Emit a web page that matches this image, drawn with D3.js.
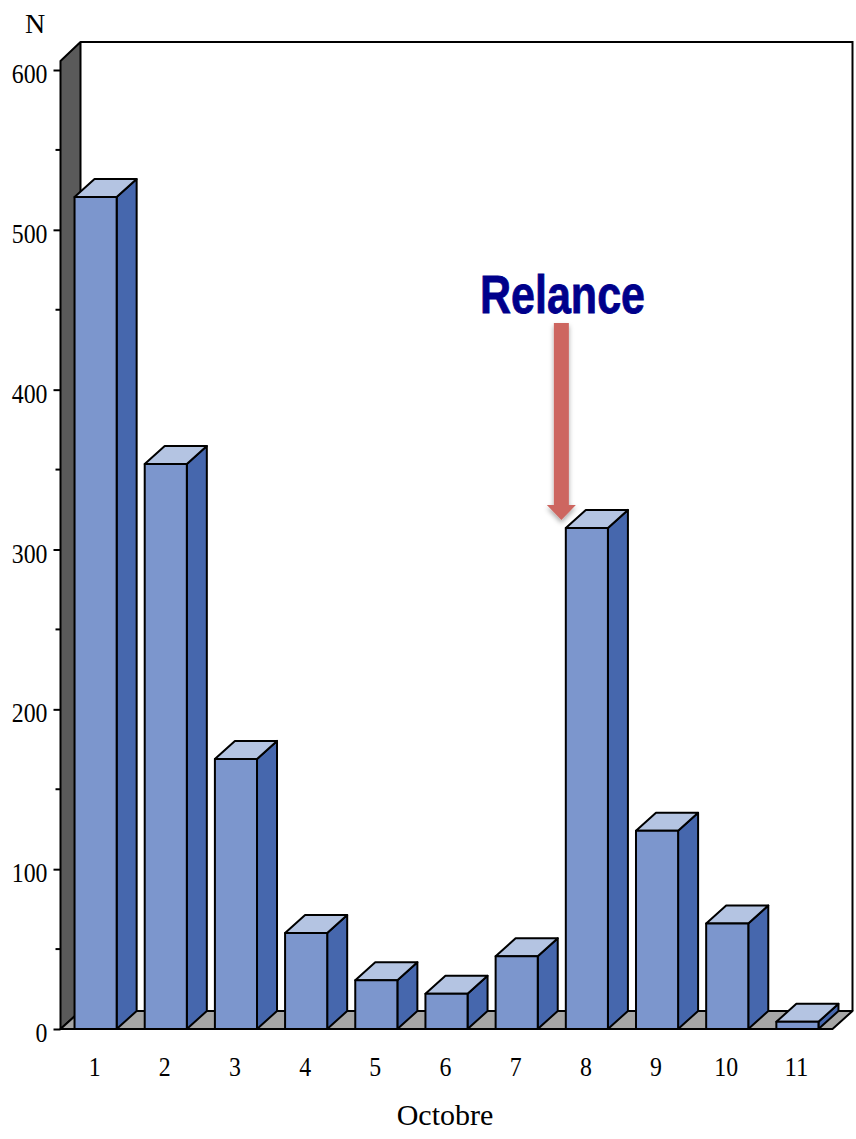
<!DOCTYPE html>
<html><head><meta charset="utf-8">
<script src="https://cdn.jsdelivr.net/npm/d3@7"></script>
<style>html,body{margin:0;padding:0;background:#fff}svg{display:block}
text{font-family:"Liberation Serif",serif;fill:#000}</style></head>
<body><div id="c"></div>
<script>
const categories=["1","2","3","4","5","6","7","8","9","10","11"];
const values=[520.5,353.5,169,60,30.5,22,45.5,313.5,124,66,4.5];
const majorTicks=[0,100,200,300,400,500,600];
const minorTicks=[50,150,250,350,450,550];
const yTitle="N", xTitle="Octobre", note="Relance";

(function(){
const W=856,H=1139,dx=20,dy=-18;
const svg=d3.select("#c").append("svg").attr("width",W).attr("height",H);
const y=d3.scaleLinear().domain([0,600]).range([1029,70]);
const x=d3.scaleBand().domain(categories).range([60.5,832.5]).paddingInner(0.4).paddingOuter(0.2);
const y0=y(0), xL=x.range()[0], xR=x.range()[1], wallTop=42;
const line=d3.line();
const poly=(pts,fill)=>svg.append("path").attr("d",line(pts)+"Z").attr("fill",fill)
  .attr("stroke","#000").attr("stroke-width",2).attr("stroke-linejoin","round");

const defs=svg.append("defs");
const f=defs.append("filter").attr("id","sh").attr("x","-50%").attr("y","-10%").attr("width","220%").attr("height","120%");
f.append("feDropShadow").attr("dx",0).attr("dy",3).attr("stdDeviation",2.5).attr("flood-color","#000").attr("flood-opacity",0.35);

// back plane, side wall, floor
svg.append("path").attr("d",line([[xL+dx,wallTop],[xR+dx,wallTop],[xR+dx,y0+dy]])).attr("fill","#fff")
  .attr("stroke","#000").attr("stroke-width",2);
poly([[xL,y(600)-9],[xL+dx,wallTop],[xL+dx,y0+dy],[xL,y0]],"#5a5a5a");
poly([[xL,y0],[xL+dx,y0+dy],[xR+dx,y0+dy],[xR,y0]],"#a6a6a6");

// axis
const yAxis=d3.axisLeft(y).tickValues(majorTicks).tickSize(7).tickPadding(6).tickFormat(d3.format("d"));
const gy=svg.append("g").attr("transform",`translate(${xL},0)`).call(yAxis);
gy.select(".domain").remove();
gy.selectAll("line").attr("stroke","#000").attr("stroke-width",2);
gy.selectAll("text").attr("font-size",27.5).attr("font-family","Liberation Serif").attr("fill","#000")
  .attr("dy","0.46em")
  .attr("textLength",d=>String(d).length*11.9).attr("lengthAdjust","spacingAndGlyphs");
svg.append("g").selectAll("line").data(minorTicks).join("line")
  .attr("x1",xL-5).attr("x2",xL).attr("y1",d=>y(d)).attr("y2",d=>y(d))
  .attr("stroke","#000").attr("stroke-width",2);

// bars
categories.forEach((c,i)=>{
  const a=x(c),b=a+x.bandwidth(),t=y(values[i]);
  poly([[b,t],[b+dx,t+dy],[b+dx,y0+dy],[b,y0]],"#4667ad");
  poly([[a,t],[a+dx,t+dy],[b+dx,t+dy],[b,t]],"#b4c4e2");
  poly([[a,t],[b,t],[b,y0],[a,y0]],"#7c96cd");
});

// x labels
svg.append("g").selectAll("text").data(categories).join("text")
  .attr("x",d=>x(d)+x.bandwidth()/2-1).attr("y",1076).attr("text-anchor","middle")
  .attr("font-size",27).attr("textLength",d=>d.length*11.9).attr("lengthAdjust","spacingAndGlyphs").text(d=>d);
svg.append("text").attr("x",445).attr("y",1125).attr("text-anchor","middle").attr("font-size",30).text(xTitle);
svg.append("text").attr("x",35).attr("y",33).attr("text-anchor","middle").attr("font-size",28).text(yTitle);

// annotation
const ax=x("8")+x.bandwidth()/2-25.5;
svg.append("path").attr("d",line([[ax-7.5,323],[ax+7.5,323],[ax+7.5,505],[ax+14.5,505],[ax,520],[ax-14.5,505],[ax-7.5,505]])+"Z")
  .attr("fill","#cd6660").attr("filter","url(#sh)");
svg.append("text").attr("x",480).attr("y",313).attr("textLength",165).attr("lengthAdjust","spacingAndGlyphs")
  .attr("font-size",53).attr("font-weight",700).style("font-family","'Liberation Sans',sans-serif").style("fill","#00008b")
  .attr("stroke","#00008b").attr("stroke-width",0.8).text(note);
})();
</script></body></html>
